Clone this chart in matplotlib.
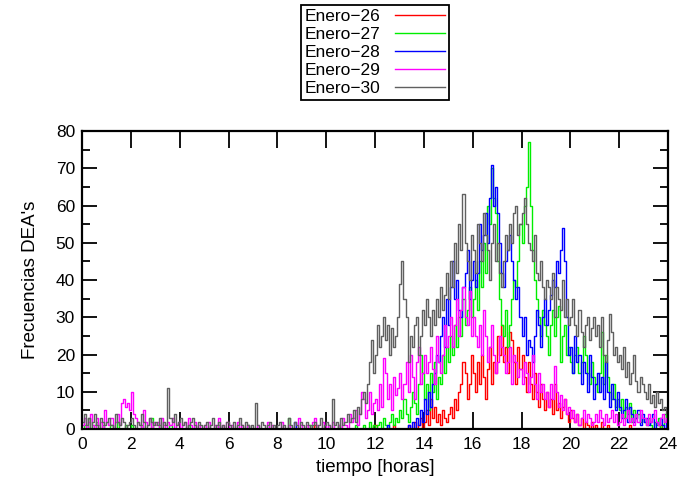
import numpy as np
import matplotlib
matplotlib.use('Agg')
import matplotlib.pyplot as plt
from matplotlib.ticker import MultipleLocator

plt.rcParams['font.family'] = ['Liberation Sans', 'DejaVu Sans']

# 5-minute bins, 12 values per hour, 0h .. 24h
ene26 = [0,0,0,0,0,0,0,0,0,0,0,0,
         0,0,0,0,0,0,0,0,0,0,0,0,
         0,0,0,0,0,0,0,0,0,0,0,0,
         0,0,0,0,0,0,0,0,0,0,0,0,
         0,0,0,0,0,0,0,0,0,0,0,0,
         0,0,0,0,0,0,0,0,0,0,0,0,
         0,0,0,0,0,0,0,0,0,0,0,0,
         0,0,0,0,0,0,0,0,0,0,0,0,
         0,0,0,0,0,0,0,0,0,0,0,0,
         0,0,0,0,0,0,1,0,0,0,0,0,
         0,0,0,0,0,0,0,0,0,0,0,0,
         0,0,0,0,0,0,0,0,0,0,0,1,
         1,0,0,0,0,0,0,0,0,1,0,0,
         0,0,0,0,1,0,0,2,0,1,3,0,
         2,5,1,8,3,6,2,4,1,5,3,2,
         4,6,3,8,5,10,12,18,15,8,12,20,
         15,10,18,12,20,14,8,16,22,12,18,15,
         25,20,28,18,22,15,26,24,18,12,22,16,
         20,14,10,18,12,8,15,10,6,12,8,5,
         10,6,8,4,12,5,7,3,6,8,4,2,
         5,3,2,4,1,3,0,2,1,0,2,0,
         1,0,0,2,0,0,1,0,0,0,0,0,
         0,0,0,0,0,1,0,0,0,0,0,0,
         0,0,0,0,0,0,0,0,1,0,0,0]

ene27 = [0,1,0,3,0,0,1,2,0,0,1,0,
         0,0,1,0,0,2,0,0,0,1,0,0,
         1,0,0,0,0,1,0,0,0,0,3,0,
         0,0,1,0,0,0,0,1,0,0,0,0,
         0,0,0,0,1,0,0,0,0,0,0,0,
         0,0,0,0,0,0,0,1,0,0,0,0,
         0,0,0,0,0,0,0,0,0,1,0,0,
         0,0,0,0,0,0,0,0,0,0,0,0,
         0,0,0,0,0,3,0,0,0,0,0,0,
         0,0,0,0,1,0,0,0,0,0,0,0,
         0,0,0,0,0,0,1,0,0,0,0,0,
         0,0,1,0,0,0,1,0,0,2,0,1,
         0,1,2,0,3,1,0,2,4,1,3,2,
         5,3,8,4,2,6,10,7,4,12,20,15,
         8,12,5,15,10,18,8,14,12,20,15,22,
         18,25,20,28,22,30,25,35,28,32,38,30,
         35,40,32,45,38,50,42,60,55,70,62,58,
         45,35,28,25,32,22,28,35,40,38,45,55,
         50,60,65,77,60,48,40,35,30,25,32,28,
         25,20,28,32,25,30,33,18,25,28,20,22,
         18,15,20,22,15,18,25,20,15,12,18,14,
         12,10,15,26,12,20,14,10,8,12,6,8,
         5,8,3,6,4,7,2,5,3,4,2,3,
         2,1,3,1,0,2,1,3,0,1,4,2]

ene28 = [0,0,0,0,0,0,0,0,0,0,0,0,
         0,0,0,0,0,0,0,0,0,0,0,0,
         0,0,0,0,0,0,0,0,0,0,0,0,
         0,0,0,0,0,0,0,0,0,0,0,0,
         0,0,0,0,0,0,0,0,0,0,0,0,
         0,0,0,0,0,0,0,0,0,0,0,0,
         0,0,0,0,0,0,0,0,0,0,0,0,
         0,0,0,0,0,0,0,0,0,0,0,0,
         0,0,0,0,0,0,0,0,2,0,0,0,
         0,0,0,0,0,0,0,0,0,0,0,0,
         0,0,0,0,0,0,0,0,0,0,0,0,
         0,0,0,0,0,0,0,0,0,0,0,0,
         0,0,0,0,0,0,1,0,0,0,0,0,
         0,0,0,0,1,0,2,0,3,1,5,2,
         8,4,10,6,12,15,20,18,25,30,22,35,
         28,38,45,35,40,32,30,38,42,48,35,40,
         45,38,42,55,48,52,58,50,62,71,60,65,
         58,50,42,38,45,48,52,45,40,35,38,30,
         25,30,20,24,22,18,25,32,28,22,30,35,
         28,32,36,40,38,45,42,48,54,45,30,20,
         22,15,25,18,20,12,18,15,10,20,14,8,
         12,15,10,14,8,18,10,6,12,8,5,10,
         6,3,5,8,2,6,4,2,3,5,1,4,
         2,3,1,2,4,0,2,1,3,1,0,2]

ene29 = [1,3,0,2,4,1,0,3,1,2,0,5,
         2,1,3,0,2,4,1,7,8,6,7,5,
         10,4,3,2,1,0,5,2,1,3,0,2,
         1,2,0,3,1,0,2,1,3,0,1,2,
         0,1,2,0,3,1,0,2,0,1,0,0,
         1,0,2,0,0,1,0,3,0,1,0,2,
         0,1,0,0,2,0,1,0,0,1,0,0,
         0,0,1,0,0,0,0,2,0,1,0,0,
         0,0,2,0,0,1,0,0,0,0,3,1,
         0,0,1,0,0,2,3,1,0,0,2,1,
         0,1,0,2,0,0,1,0,3,1,0,4,
         2,3,5,1,4,10,8,3,5,10,4,7,
         8,5,12,6,19,15,8,12,5,14,9,11,
         15,8,12,18,10,20,14,8,18,22,12,15,
         20,15,18,22,16,12,25,18,15,20,28,22,
         25,30,22,28,35,25,32,38,30,28,37,25,
         30,25,22,28,20,32,25,18,22,28,20,15,
         18,25,22,20,15,18,22,12,20,18,14,16,
         12,18,15,10,14,20,12,8,15,10,12,8,
         10,6,12,8,17,10,6,9,5,8,4,6,
         3,5,2,4,1,3,5,2,4,3,1,2,
         4,2,5,3,1,4,2,3,5,2,4,1,
         2,4,1,3,5,2,3,1,4,2,5,3,
         3,1,4,2,3,5,2,1,3,4,2,3]

ene30 = [2,4,1,3,0,2,4,1,0,3,2,1,
         2,3,1,0,4,2,1,3,2,0,1,2,
         3,1,0,2,1,4,2,0,1,3,2,1,
         2,1,3,0,2,1,11,3,2,4,1,2,
         3,1,2,0,1,2,3,1,0,2,1,0,
         1,2,0,1,3,0,1,2,0,1,0,2,
         1,0,2,0,1,3,1,0,2,1,0,1,
         0,7,1,0,2,1,0,1,2,0,1,0,
         1,2,0,1,0,3,1,0,2,1,0,2,
         1,0,2,1,0,1,2,0,1,3,0,1,
         2,1,0,8,1,2,0,3,1,2,4,2,
         3,5,2,6,4,8,10,7,12,18,24,15,
         20,28,22,25,30,24,28,20,27,22,25,30,
         39,45,35,30,18,25,22,28,30,20,25,32,
         28,35,30,25,32,28,35,30,38,32,36,42,
         35,45,38,50,42,55,48,63,50,45,40,52,
         48,42,55,50,45,58,52,48,40,50,55,45,
         50,42,38,45,52,48,55,50,58,60,52,55,
         58,62,55,50,48,45,52,42,40,45,38,35,
         40,38,35,42,30,38,35,32,40,30,35,28,
         30,35,28,25,32,26,22,28,30,24,27,30,
         25,28,22,30,20,18,24,31,26,20,22,18,
         20,16,22,14,18,12,15,20,13,10,14,12,
         10,8,12,7,9,6,10,7,8,5,6,4]

labels = ['Enero\u221226', 'Enero\u221227', 'Enero\u221228', 'Enero\u221229', 'Enero\u221230']
colors = ['#ff0000', '#00ee00', '#0000ff', '#ff00ff', '#606060']
series = [ene26, ene27, ene28, ene29, ene30]

t = np.arange(len(ene26)) / 12.0

fig = plt.figure(figsize=(6.91, 4.90), dpi=100)
ax = fig.add_axes([82/691, 61/490, 586/691, 298/490])

for y, c, lab in zip(series, colors, labels):
    ax.plot(t, y, drawstyle='steps-post', color=c, lw=1.0, label=lab)

ax.set_xlim(0, 24)
ax.set_ylim(0, 80)
ax.xaxis.set_major_locator(MultipleLocator(2))
ax.yaxis.set_major_locator(MultipleLocator(10))
ax.yaxis.set_minor_locator(MultipleLocator(5))
ax.tick_params(which='both', direction='in', top=True, right=True, labelsize=12.5, width=1.3)
ax.tick_params(axis='x', which='major', length=12, pad=6)
ax.tick_params(axis='y', which='major', length=11, pad=5)
ax.tick_params(axis='y', which='minor', length=6)
for s in ax.spines.values():
    s.set_linewidth(1.6)

ax.set_xlabel('tiempo [horas]', fontsize=13.5, labelpad=5)
ax.set_ylabel("Frecuencias DEA's", fontsize=13.5, labelpad=12)

leg = fig.legend(loc='upper center', bbox_to_anchor=(375/691, 1 - 5/490),
                 borderaxespad=0, fontsize=12.5, markerfirst=False, handlelength=2.9,
                 labelspacing=0.17, borderpad=0.2, handletextpad=0.8,
                 fancybox=False, framealpha=1, edgecolor='black')
leg.get_frame().set_linewidth(1.3)

fig.savefig('out.png', dpi=100)
